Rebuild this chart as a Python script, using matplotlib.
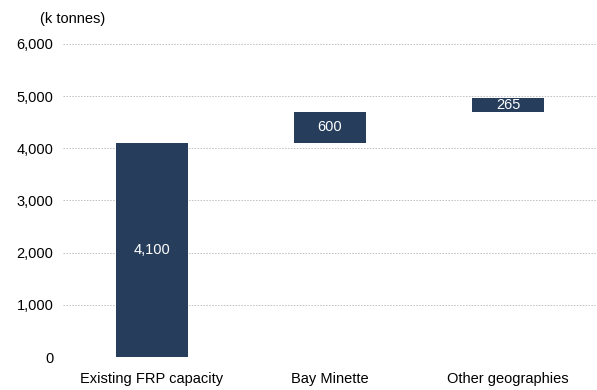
import matplotlib
matplotlib.use("Agg")
import matplotlib.pyplot as plt
from matplotlib import font_manager

names = {f.name for f in font_manager.fontManager.ttflist}
fam = ['Liberation Sans Narrow', 'Liberation Sans', 'DejaVu Sans'] if 'Liberation Sans Narrow' in names else ['Liberation Sans', 'DejaVu Sans']
plt.rcParams['font.family'] = fam

categories = ["Existing FRP capacity", "Bay Minette", "Other geographies"]
values = [4100, 600, 265]
bar_labels = ["4,100", "600", "265"]
yticks = [0, 1000, 2000, 3000, 4000, 5000, 6000]
ytick_labels = ["0", "1,000", "2,000", "3,000", "4,000", "5,000", "6,000"]

color = "#263d5c"

fig = plt.figure(figsize=(5.97, 3.90), dpi=100)
ax = fig.add_axes([0.1055, 0.0846, 0.8945, 0.8026])

bottoms = []
acc = 0
for v in values:
    bottoms.append(acc)
    acc += v

x = list(range(len(categories)))
ax.bar(x, values, bottom=bottoms, width=0.4, color=color, zorder=3)
for xi, v, b, lab in zip(x, values, bottoms, bar_labels):
    ax.text(xi, b + v / 2, lab, ha='center', va='center', color='white', fontsize=10.5, zorder=4)

ax.set_xlim(-0.5, 2.5)
ax.set_ylim(0, 6000)
ax.set_yticks(yticks)
ax.set_yticklabels(ytick_labels, fontsize=10.5)
ax.set_xticks(x)
ax.set_xticklabels(categories, fontsize=10.5)
ax.tick_params(axis='both', length=0, pad=7)
ax.tick_params(axis='x', pad=11)
for s in ax.spines.values():
    s.set_visible(False)
ax.yaxis.grid(True, color='#bfbfbf', linestyle=(0, (1.5, 1.5)), linewidth=0.7, zorder=0)
ax.set_axisbelow(True)

fig.text(40 / 597, 1 - 19 / 390, "(k tonnes)", fontsize=10.5, va='center', ha='left')

fig.savefig("out.png", dpi=100)
